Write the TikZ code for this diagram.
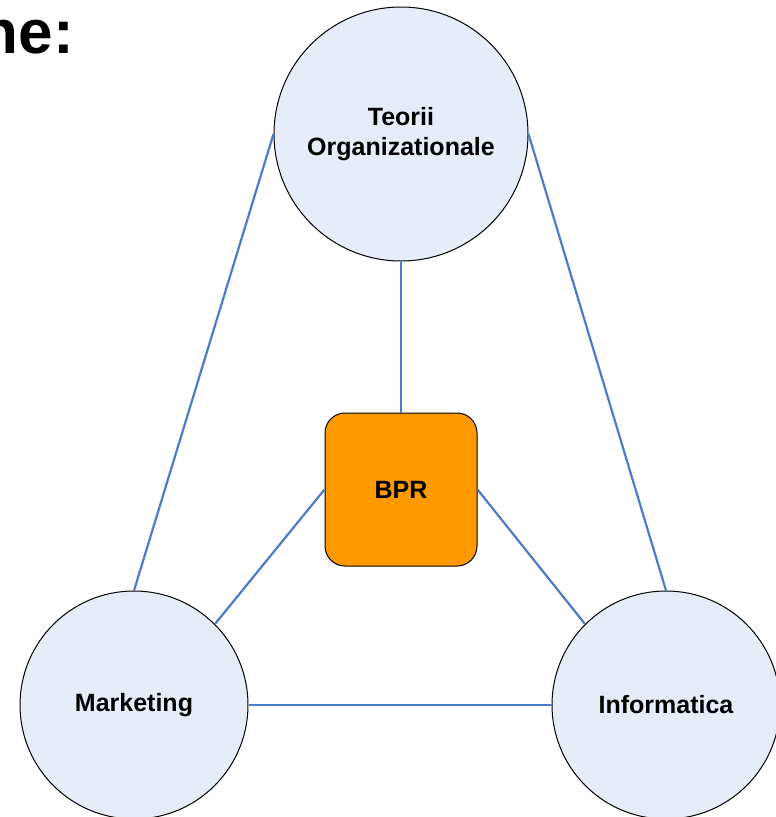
\documentclass[tikz,border=0pt]{standalone}
\usepackage{fontspec}
\setmainfont{Liberation Sans}
\usepackage{tikz}

\definecolor{discfill}{HTML}{E6EDF8}
\definecolor{linkblue}{HTML}{4A7CC9}
\definecolor{bprorange}{HTML}{FF9900}

\begin{document}
\begin{tikzpicture}[x=1pt, y=-1pt,
	disc/.style = {circle, draw, line width=1pt, fill=discfill, minimum size=228pt,
		inner sep=0pt, align=center, font=\fontsize{25}{30}\selectfont\bfseries},
	core/.style = {draw, line width=1pt, fill=bprorange, rounded corners=20pt,
		minimum width=152pt, minimum height=153pt,
		font=\fontsize{25}{30}\selectfont\bfseries},
	link/.style = {draw=linkblue, line width=2.2pt}]
	\useasboundingbox (0,0) rectangle (776,817);
	\node[anchor=base east, inner sep=0pt, font=\fontsize{62}{70}\selectfont\bfseries] (h) at (74,53) {ne:};
	\node[disc, minimum size=254pt] (t) at (401,134) {Teorii\\Organizationale};
	\node[disc] (m) at (134,705) {Marketing};
	\node[disc] (i) at (666,705) {Informatica};
	\node[core] (b) at (401,489.5) {BPR};
	\path[link]
		(t.south) edge (b.north)
		(t.west) edge (m.north)
		(t.east) edge (i.north)
		(b.west) edge (m.north east)
		(b.east) edge (i.north west)
		(m.east) edge (i.west) ;
\end{tikzpicture}
\end{document}
